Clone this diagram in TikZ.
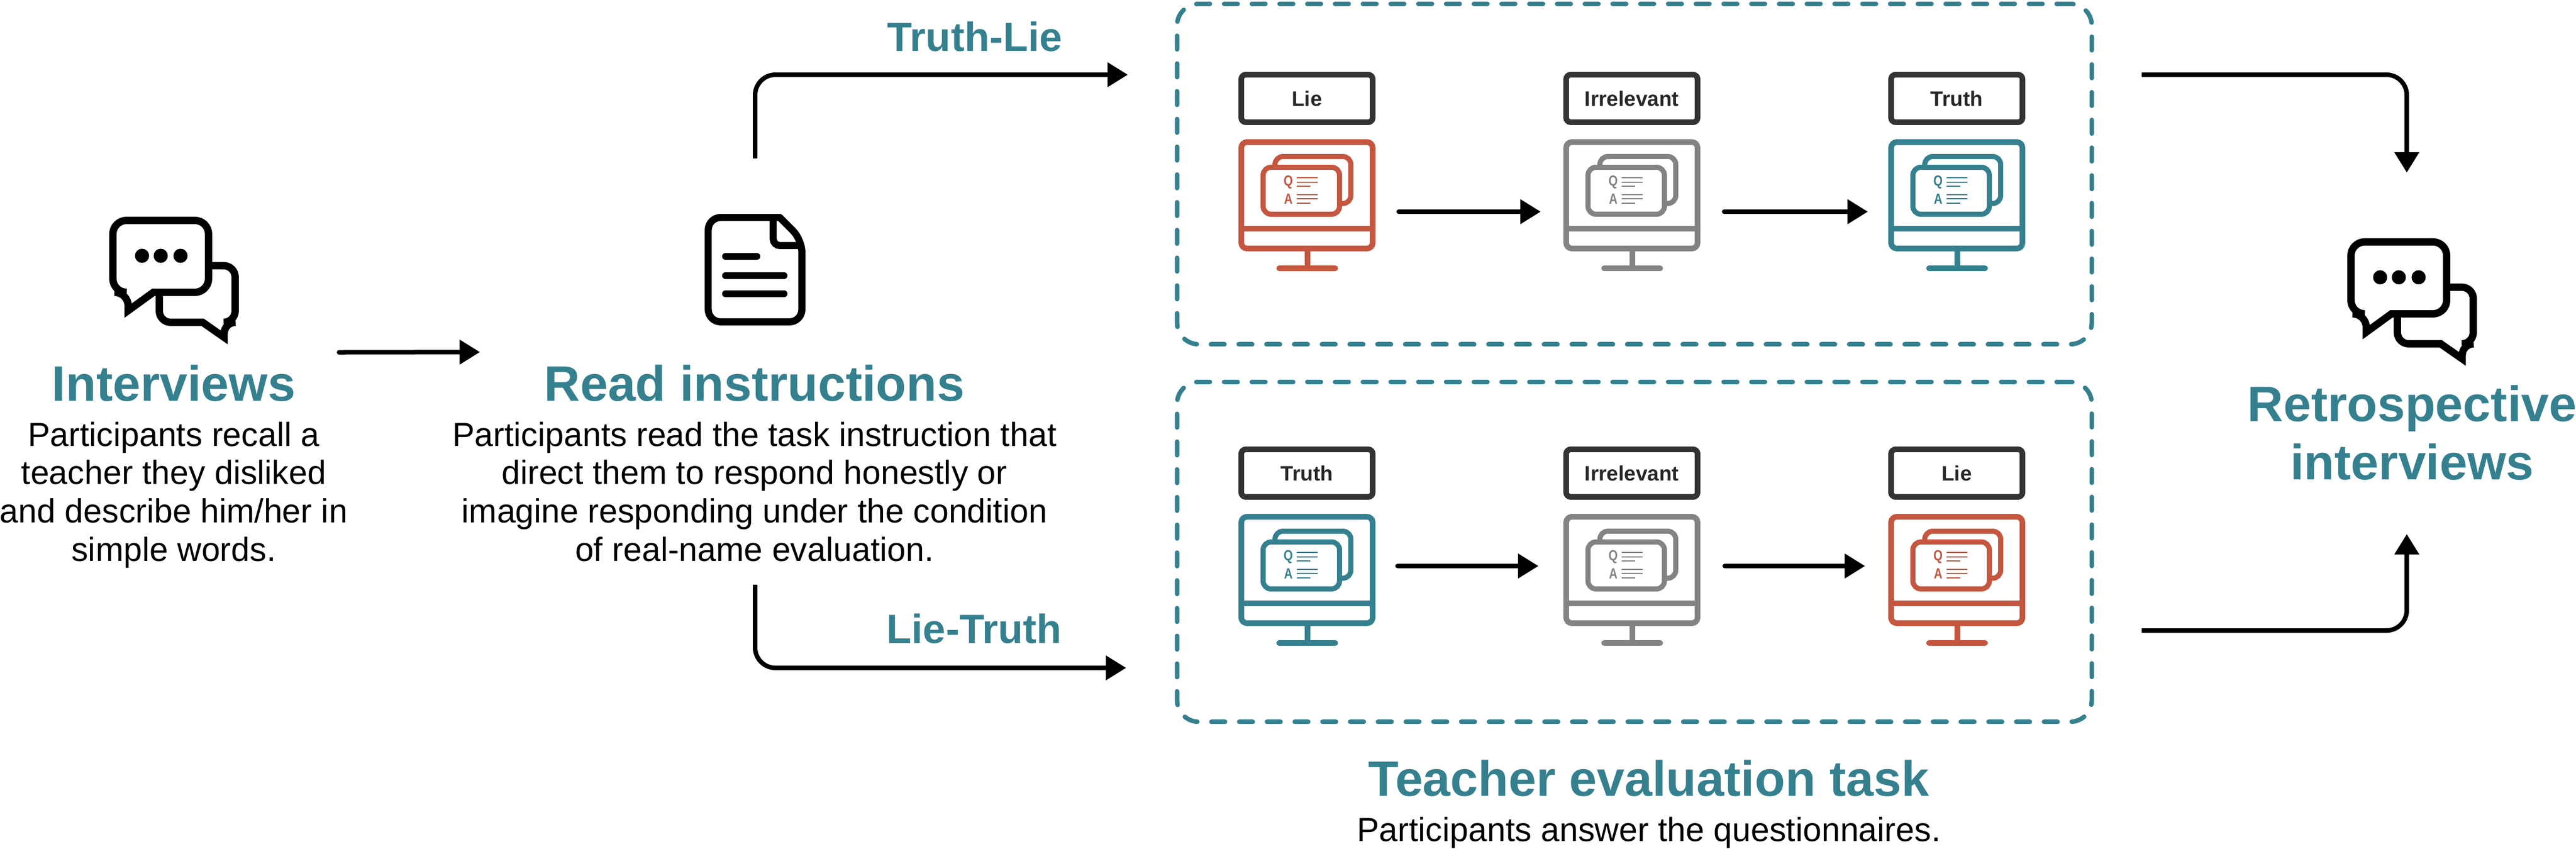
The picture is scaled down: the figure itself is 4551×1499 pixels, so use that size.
\documentclass[tikz,border=0pt]{standalone}
\usepackage{fontspec}
\setmainfont{Liberation Sans}
\usepackage{xcolor}
\usetikzlibrary{arrows.meta,positioning}
\definecolor{tealc}{HTML}{35808F}
\definecolor{redc}{HTML}{C5563F}
\definecolor{grayc}{HTML}{838383}
\definecolor{darkc}{HTML}{333333}

\tikzset{
    pics/monitor/.style={code={
        \draw[#1, line width=.1cm, rounded corners=.1cm] (-116,-94) rectangle (116,94);
        \draw[#1, line width=.1cm] (-116,59) -- (116,59);
        \draw[#1, line width=.1cm] (1,99) -- (1,125);
        \draw[#1, line width=.1cm, line cap=round] (-49,129) -- (50,129);
        \draw[#1, line width=.09cm, rounded corners=.14cm] (-56.5,-68.5) rectangle (77.5,14.5);
        \draw[#1, line width=.09cm, rounded corners=.14cm, fill=white] (-77.5,-49.5) rectangle (57.5,33.5);
        \node[#1, font=\bfseries\fontsize{7.4}{7.4}\selectfont, inner sep=0, xscale=.8] (q) at (-33,-23) {Q};
        \node[#1, font=\bfseries\fontsize{7.4}{7.4}\selectfont, inner sep=0, xscale=.8] (a) at (-33,7) {A};
        \draw[#1, line width=.025cm] (-18,-31) -- (19,-31) (-18,-23) -- (19,-23) (-18,-16) -- (6,-16);
        \draw[#1, line width=.025cm] (-18,-1) -- (19,-1) (-18,6) -- (19,6) (-18,14) -- (6,14);
    }},
    pics/bubbles/.style={code={
        \draw[line width=.13cm, line join=miter] (165,186.5) [rounded corners=.2cm] -- (88.5,186.5) -- (88.5,86.5) -- (222.5,86.5) -- (222.5,186.5) -- (203,186.5) [sharp corners] -- (203,213) -- cycle;
        \draw[line width=.13cm, line join=miter, fill=white] (78,133.5) [rounded corners=.24cm] -- (175.5,133.5) -- (175.5,6.5) -- (6.5,6.5) -- (6.5,133.5) -- (33.5,133.5) [sharp corners] -- (33.5,165.8) -- cycle;
        \fill (58,69) circle (.125cm);
        \fill (91,69) circle (.125cm);
        \fill (126,69) circle (.125cm);
    }},
    pics/document/.style={code={
        \draw[line width=.125cm, line join=round] (132.5,6.25) [rounded corners=.22cm] -- (6.25,6.25) -- (6.25,190.75) -- (171.75,190.75) -- (171.75,45.5) [sharp corners] -- cycle;
        \draw[line width=.125cm] (121,6) [rounded corners=.12cm] -- (121,56) -- (171.75,56);
        \draw[line width=.125cm, line cap=round] (37,75) -- (92,75);
        \draw[line width=.125cm, line cap=round] (37,109) -- (140,109);
        \draw[line width=.125cm, line cap=round] (37,141) -- (140,141);
    }}
}

\begin{document}
\begin{tikzpicture}[
    x=.01cm, y=-.01cm,
    node distance=.25cm,
    titletext/.style={font=\bfseries\fontsize{25}{29.3}\selectfont, text=tealc, inner sep=0, align=center},
    subtext/.style={font=\bfseries\fontsize{20.5}{24}\selectfont, text=tealc, inner sep=0},
    bodytext/.style={font=\fontsize{16.8}{19.3}\selectfont, inner sep=0, align=center},
    labelbox/.style={rectangle, draw=darkc, line width=.1cm, rounded corners=.08cm, minimum width=2.32cm, minimum height=.84cm, inner sep=0, font=\bfseries\fontsize{10.5}{12}\selectfont, text=black!85},
    frame/.style={minimum width=2.42cm, minimum height=1.98cm, inner sep=0, outer sep=0},
    iconbox/.style={inner sep=0, outer sep=0},
    dashbox/.style={rectangle, draw=tealc, line width=.08cm, line cap=round, dash pattern=on .24cm off .25cm, rounded corners=.38cm, minimum width=16.15cm, inner sep=0, outer sep=0},
    arrow/.style={-{Triangle[length=.36cm,width=.42cm]}, line width=.08cm}
]
\useasboundingbox (0,0) rectangle (4551,1499);

\node[iconbox, minimum width=2.29cm, minimum height=2.25cm] (bubblesL) at (307.5,495.5) {};
\pic at (bubblesL.north west) {bubbles};
\node[titletext, anchor=base] (interviews) at (307,708) {Interviews};
\node[bodytext, below=.35cm of interviews] (interviewsText) {Participants recall a\\teacher they disliked\\and describe him/her in\\simple words.};

\node[iconbox, minimum width=1.78cm, minimum height=1.97cm] (doc) at (1334,476.5) {};
\pic at (doc.north west) {document};
\node[titletext, anchor=base] (read) at (1333,708) {Read instructions};
\node[bodytext, below=.35cm of read] (readText) {Participants read the task instruction that\\direct them to respond honestly or\\imagine responding under the condition\\of real-name evaluation.};

\node[subtext, anchor=base] (truthLie) at (1722,90) {Truth-Lie};
\node[subtext, anchor=base] (lieTruth) at (1721,1136) {Lie-Truth};

\node[dashbox, minimum height=6.01cm] (boxA) at (2887.5,307.5) {};
\node[dashbox, minimum height=6cm] (boxB) at (2887.5,975) {};

\node[frame] (m11) at (2309,345) {};
\node[frame] (m12) at (2883,345) {};
\node[frame] (m13) at (3457,345) {};
\node[frame] (m21) at (2309,1007) {};
\node[frame] (m22) at (2883,1007) {};
\node[frame] (m23) at (3457,1007) {};
\pic (p11) at (m11) {monitor=redc};
\pic (p12) at (m12) {monitor=grayc};
\pic (p13) at (m13) {monitor=tealc};
\pic (p21) at (m21) {monitor=tealc};
\pic (p22) at (m22) {monitor=grayc};
\pic (p23) at (m23) {monitor=redc};

\node[labelbox, above=of m11] (l11) {Lie};
\node[labelbox, above=of m12] (l12) {Irrelevant};
\node[labelbox, above=of m13] (l13) {Truth};
\node[labelbox, above=of m21] (l21) {Truth};
\node[labelbox, above=of m22] (l22) {Irrelevant};
\node[labelbox, above=of m23] (l23) {Lie};

\node[titletext, anchor=base] (teacher) at (2913,1406) {Teacher evaluation task};
\node[bodytext, below=.35cm of teacher] (teacherText) {Participants answer the questionnaires.};

\node[iconbox, minimum width=2.29cm, minimum height=2.25cm] (bubblesR) at (4261.5,533.5) {};
\pic at (bubblesR.north west) {bubbles};
\node[titletext, below=.34cm of bubblesR] (retro) {Retrospective\\interviews};

\draw[arrow, line cap=round] ([shift={(177,127)}]bubblesL.east) -- ([shift={(-397,145.5)}]doc.west);
\draw[arrow, rounded corners=.36cm] ([shift={(0,-98)}]doc.north) |- ([shift={(-87,-175.5)}]boxA.west);
\draw[arrow, rounded corners=.36cm] ([shift={(0,458)}]doc.south) |- ([shift={(-90,205)}]boxB.west);
\draw[arrow, line cap=round] ([shift={(41,29)}]m11.east) -- ([shift={(-40,29)}]m12.west);
\draw[arrow, line cap=round] ([shift={(42,29)}]m12.east) -- ([shift={(-36,29)}]m13.west);
\draw[arrow, line cap=round] ([shift={(39,-7)}]m21.east) -- ([shift={(-44,-7)}]m22.west);
\draw[arrow, line cap=round] ([shift={(43,-7)}]m22.east) -- ([shift={(-41,-7)}]m23.west);
\draw[arrow, rounded corners=.36cm] ([shift={(88,-175.5)}]boxA.east) -| ([shift={(-9.5,-116)}]bubblesR.north);
\draw[arrow, rounded corners=.36cm] ([shift={(88,139)}]boxB.east) -| ([shift={(-9.5,297.5)}]bubblesR.south);
\end{tikzpicture}
\end{document}
